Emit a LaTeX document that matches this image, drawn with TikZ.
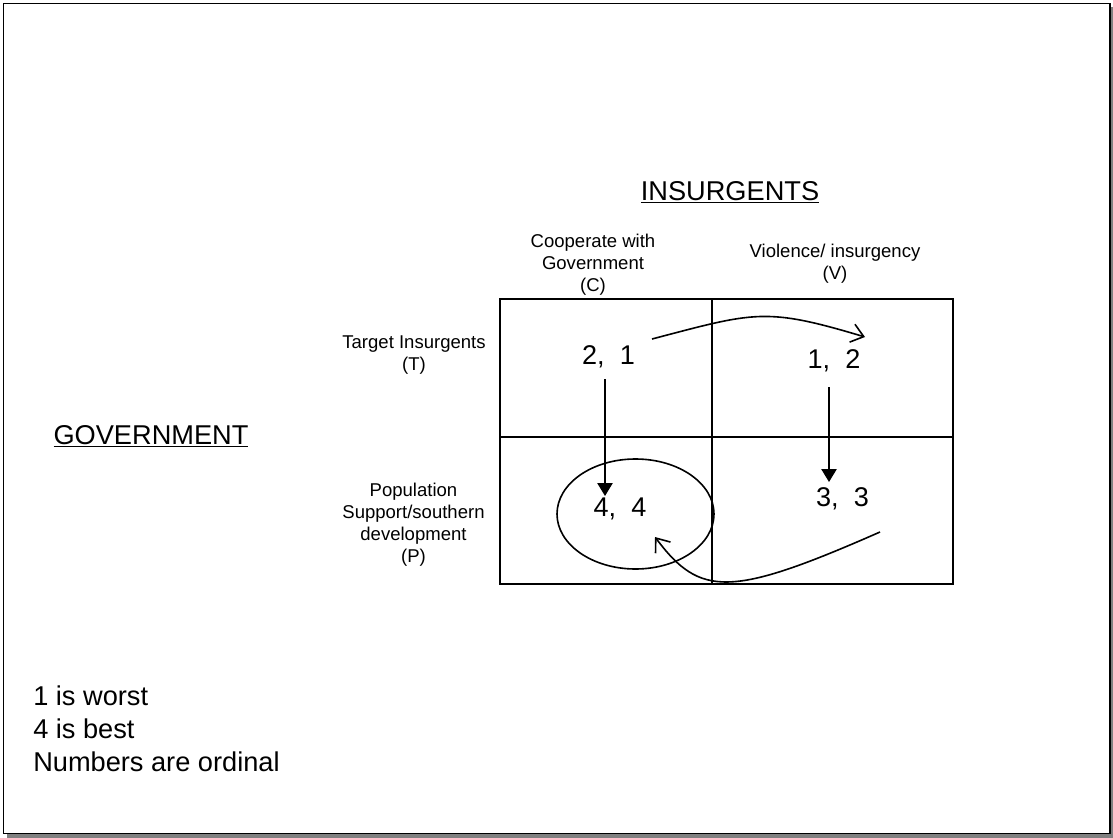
\documentclass[tikz,border=0pt]{standalone}
\usepackage{fontspec}
\setmainfont{Liberation Sans}
\usetikzlibrary{arrows.meta}
\begin{document}
\begin{tikzpicture}[x=0.75pt,y=-0.75pt,
  small/.style={font=\fontsize{13.9}{16.5}\selectfont, align=center, inner sep=0pt},
  big/.style={font=\fontsize{20.4}{24.75}\selectfont, inner sep=0pt},
  payoff/.style={font=\fontsize{20.3}{22}\selectfont, inner sep=0pt, anchor=base},
  gridline/.style={line width=0.8pt},
  solidarrow/.style={line width=1.2pt,-{Triangle[length=9.75pt,width=11.5pt]}},
  openarrow/.style={line width=1.2pt,-{Straight Barb[length=9pt,width=14pt,line width=1.2pt]}},
  ring/.style={line width=1.2pt}]
\useasboundingbox (0,0) rectangle (1113,838);
% frame with shadow
\fill[black!50] (7,7) rectangle (1113,837.5);
\draw[fill=white,line width=1.1pt] (3.5,3.5) rectangle (1110,833.5);

% headings
\node[big] (ins) at (730,192) {\underline{INSURGENTS}};
\node[big] (gov) at (151,436) {\underline{GOVERNMENT}};

% column labels
\node[small] (colC) at (593,265) {Cooperate with\\Government\\(C)};
\node[small] (colV) at (835,263.5) {Violence/ insurgency\\(V)};
% row labels
\node[small] (rowT) at (414,355.5) {Target Insurgents\\(T)};
\node[small] (rowP) at (413.5,525) {Population\\Support/southern\\development\\(P)};

% grid
\draw[gridline] (500,299) rectangle (953,584);
\draw[gridline] (712,299) -- (712,584);
\draw[gridline] (500,437) -- (953,437);

% payoffs
\node[payoff] (p21) at (608.5,364) {2,\ \ 1};
\node[payoff] (p12) at (834,368) {1,\ \ 2};
\node[payoff] (p44) at (620,516.5) {4,\ \ 4};
\node[payoff] (p33) at (842.5,506.5) {3,\ \ 3};

% ellipse around 4,4
\draw[ring] (635.5,514) ellipse [x radius=78.5, y radius=55];

% arrow endpoints
\coordinate (a1s) at (605,379);
\coordinate (a1e) at (605,496);
\coordinate (a2s) at (829,387);
\coordinate (a2e) at (829,482);
\coordinate (c1s) at (652,339);
\coordinate (c1e) at (865,337);
\coordinate (c2s) at (880,532);
\coordinate (c2e) at (655,537);

\draw[solidarrow] (a1s) -- (a1e);
\draw[solidarrow] (a2s) -- (a2e);
\draw[openarrow] (c1s) .. controls (755,312) and (765,307) .. (c1e);
\draw[openarrow] (c2s) .. controls (730,598) and (700,597) .. (c2e);

% legend
\node[big,anchor=base west] (l1) at (33,705) {1 is worst};
\node[big,anchor=base west] (l2) at (33,738) {4 is best};
\node[big,anchor=base west] (l3) at (33,771) {Numbers are ordinal};
\end{tikzpicture}
\end{document}
